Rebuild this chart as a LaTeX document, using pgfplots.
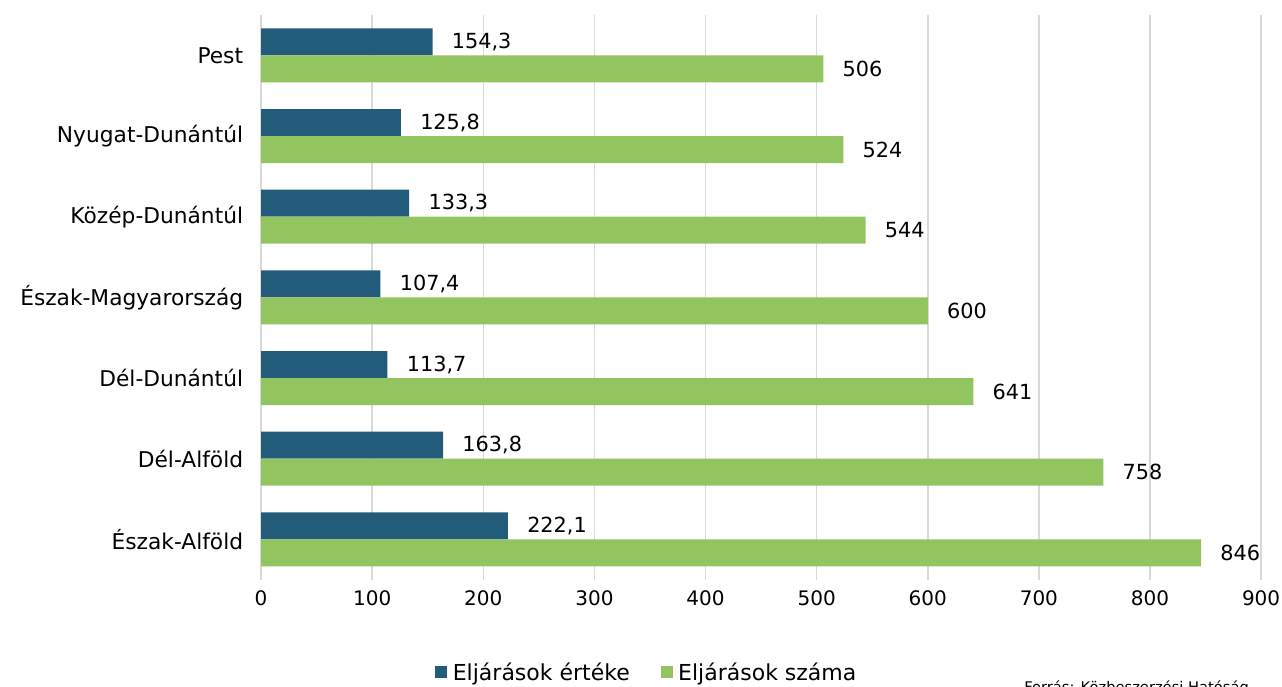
\documentclass[border=0pt]{standalone}
\usepackage{pgfplots}
\pgfplotsset{compat=1.18}
\usepackage{fontspec}
\setmainfont{DejaVu Sans}
\definecolor{darkbar}{HTML}{235C7A}
\definecolor{greenbar}{HTML}{92C460}
\definecolor{gridc}{HTML}{D9D9D9}
\begin{document}
\begin{tikzpicture}[x=0.75pt,y=-0.75pt]
\path[use as bounding box] (0,0) rectangle (1282,686);
\begin{axis}[
  at={(235,18.7)}, anchor=north west,
  scale only axis, width=750pt, height=423.45pt,
  xbar=0pt, bar width=20.25pt,
  xmin=0, xmax=900, xtick={0,100,...,900},
  ymin=-0.5, ymax=6.5, y dir=reverse,
  ytick={0,...,6},
  yticklabels={Pest,Nyugat-Dunántúl,Közép-Dunántúl,Észak-Magyarország,Dél-Dunántúl,Dél-Alföld,Észak-Alföld},
  axis line style={draw=none},
  major tick length=0pt,
  xmajorgrids, grid style={gridc, line width=1.1pt},
  xticklabel style={font=\fontsize{15}{18}\selectfont, yshift=-5pt},
  yticklabel style={font=\fontsize{16.3}{19}\selectfont, xshift=-10pt},
  /pgf/number format/assume math mode=true,
  legend columns=2,
  legend style={draw=none, at={(0.386,-0.164)}, anchor=center, font=\fontsize{16.5}{19}\selectfont,
    /tikz/every even column/.append style={column sep=21pt}},
  legend image code/.code={\fill[#1,draw=none] (0pt,-4.5pt) rectangle (9pt,4.5pt); \path (11.25pt,0pt);},
  nodes near coords,
  every node near coord/.append style={font=\fontsize{15.6}{18}\selectfont, black, xshift=11pt},
]
\addplot[draw=none, fill=darkbar, bar shift=10.125pt,
  nodes near coords={\pgfmathprintnumber[fixed, fixed zerofill, precision=1, use comma, assume math mode=true]{\pgfplotspointmeta}}]
  coordinates {(154.3,0) (125.8,1) (133.3,2) (107.4,3) (113.7,4) (163.8,5) (222.1,6)};
\addplot[draw=none, fill=greenbar, bar shift=-10.125pt,
  nodes near coords={\pgfmathprintnumber[fixed, precision=0, assume math mode=true]{\pgfplotspointmeta}}]
  coordinates {(506,0) (524,1) (544,2) (600,3) (641,4) (758,5) (846,6)};
\legend{Eljárások értéke, Eljárások száma}
\end{axis}
\node[anchor=north west, inner sep=0pt, font=\fontsize{11}{13}\selectfont] at (1024,680) {Forrás: Közbeszerzési Hatóság};
\end{tikzpicture}
\end{document}
